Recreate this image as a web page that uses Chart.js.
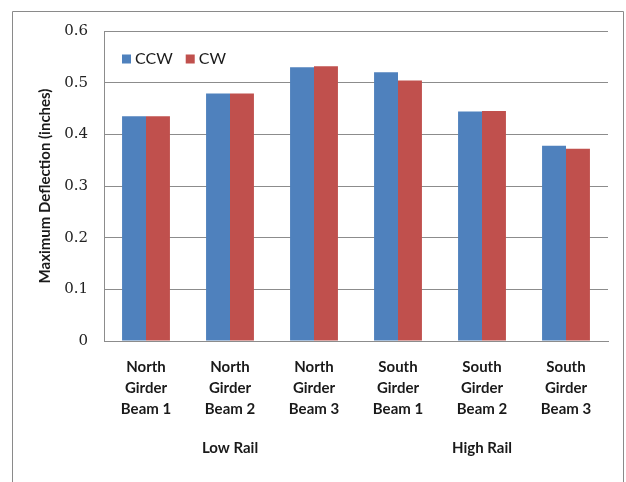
<!DOCTYPE html>
<html>
<head>
<meta charset="utf-8">
<script src="https://cdn.jsdelivr.net/npm/chart.js@4.4.1/dist/chart.umd.min.js"></script>
<style>
  html, body { margin: 0; padding: 0; background: #fff; }
  canvas { display: block; }
</style>
</head>
<body>
<canvas id="chart" width="626" height="482"></canvas>
<script>
// Deflection per girder beam, two travel directions
const categories = [
  ['North', 'Girder', 'Beam 1'],
  ['North', 'Girder', 'Beam 2'],
  ['North', 'Girder', 'Beam 3'],
  ['South', 'Girder', 'Beam 1'],
  ['South', 'Girder', 'Beam 2'],
  ['South', 'Girder', 'Beam 3']
];
const groups = ['Low Rail', 'High Rail'];
const ccw = [0.435, 0.479, 0.530, 0.520, 0.444, 0.378];
const cw = [0.435, 0.479, 0.532, 0.504, 0.445, 0.372];
const yTicks = [0, 0.1, 0.2, 0.3, 0.4, 0.5, 0.6];

const textFont = 'Lato, "Open Sans", sans-serif';
const lineGray = '#8c8c8c';

// white background and frame around the whole chart
const framePlugin = {
  id: 'frame',
  beforeDraw(chart) {
    const ctx = chart.ctx;
    ctx.save();
    ctx.fillStyle = '#fff';
    ctx.fillRect(0, 0, chart.width, chart.height);
    ctx.strokeStyle = '#8a8a8a';
    ctx.lineWidth = 1;
    ctx.beginPath();
    ctx.moveTo(12.5, chart.height);
    ctx.lineTo(12.5, 11.5);
    ctx.lineTo(623.5, 11.5);
    ctx.lineTo(623.5, chart.height);
    ctx.stroke();
    ctx.restore();
  }
};

// legend drawn inside the plot, top-left corner
const innerLegend = {
  id: 'innerLegend',
  afterDraw(chart) {
    const ctx = chart.ctx;
    const area = chart.chartArea;
    let x = area.left + 18;
    const y = area.top + 28;
    ctx.save();
    ctx.font = '16px ' + textFont;
    ctx.textBaseline = 'middle';
    chart.data.datasets.forEach(ds => {
      ctx.fillStyle = ds.backgroundColor;
      ctx.fillRect(x, y - 4.5, 9, 9);
      x += 13;
      ctx.fillStyle = '#1a1a1a';
      ctx.fillText(ds.label, x, y);
      x += ctx.measureText(ds.label).width + 13;
    });
    ctx.restore();
  }
};

new Chart(document.getElementById('chart'), {
  type: 'bar',
  data: {
    labels: categories,
    datasets: [
      { label: 'CCW', data: ccw, backgroundColor: '#4f81bd', xAxisID: 'x' },
      { label: 'CW', data: cw, backgroundColor: '#c0504d', xAxisID: 'x' }
    ]
  },
  options: {
    responsive: false,
    animation: false,
    devicePixelRatio: 1,
    layout: { padding: { left: 12, right: 18, top: 31, bottom: 21 } },
    categoryPercentage: 0.57,
    barPercentage: 1.0,
    plugins: {
      legend: { display: false },
      tooltip: { enabled: false }
    },
    scales: {
      x: {
        position: 'bottom',
        grid: { display: false, drawTicks: false },
        border: { color: lineGray },
        ticks: {
          color: '#1a1a1a',
          padding: 16,
          maxRotation: 0,
          autoSkip: false,
          font: { family: textFont, size: 15, weight: 'bold', lineHeight: 1.4 }
        }
      },
      x2: {
        type: 'category',
        position: 'bottom',
        labels: groups,
        offset: true,
        grid: { display: false, drawTicks: false },
        border: { display: false },
        ticks: {
          color: '#1a1a1a',
          padding: 2,
          font: { family: textFont, size: 15, weight: 'bold', lineHeight: 1.4 }
        }
      },
      y: {
        min: 0,
        max: 0.6,
        afterBuildTicks(scale) {
          scale.ticks = yTicks.map(v => ({ value: v }));
        },
        afterFit(scale) {
          scale.width = 92;
        },
        grid: { color: lineGray, drawTicks: false },
        border: { color: lineGray },
        ticks: {
          color: '#222',
          padding: 16,
          font: { family: '"DejaVu Serif", serif', size: 15 },
          callback: v => String(v)
        },
        title: {
          display: true,
          text: 'Maximum Deflection (inches)',
          color: '#1a1a1a',
          padding: { top: 24, bottom: 0 },
          font: { family: textFont, size: 15, weight: 'bold' }
        }
      }
    }
  },
  plugins: [framePlugin, innerLegend]
});
</script>
</body>
</html>
